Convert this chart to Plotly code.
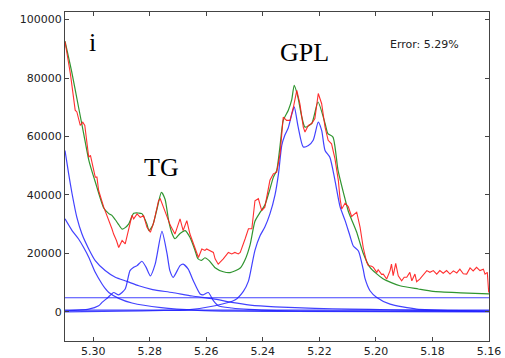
import plotly.graph_objects as go

# ---------------- data (ppm, intensity) ----------------
data_x = [5.3100, 5.3081, 5.3064, 5.3058, 5.3046, 5.3037, 5.3030, 5.3016, 5.3010, 5.2998,
          5.2993, 5.2987, 5.2981, 5.2963, 5.2958, 5.2945, 5.2934, 5.2928, 5.2918, 5.2910,
          5.2898, 5.2887, 5.2875, 5.2863, 5.2857, 5.2845, 5.2834, 5.2822, 5.2810, 5.2798,
          5.2786, 5.2769, 5.2763, 5.2751, 5.2739, 5.2727, 5.2711, 5.2699, 5.2693, 5.2682,
          5.2669, 5.2658, 5.2640, 5.2628, 5.2616, 5.2605, 5.2599, 5.2587, 5.2575, 5.2569,
          5.2558, 5.2540, 5.2522, 5.2510, 5.2499, 5.2487, 5.2480, 5.2463, 5.2451, 5.2439,
          5.2428, 5.2416, 5.2404, 5.2393, 5.2375, 5.2363, 5.2351, 5.2339, 5.2328, 5.2316,
          5.2304, 5.2292, 5.2280, 5.2269, 5.2257, 5.2251, 5.2239, 5.2227, 5.2216, 5.2204,
          5.2192, 5.2180, 5.2169, 5.2157, 5.2145, 5.2133, 5.2127, 5.2121, 5.2109, 5.2098,
          5.2086, 5.2068, 5.2056, 5.2045, 5.2033, 5.2027, 5.2015, 5.2009, 5.1997, 5.1992,
          5.1980, 5.1974, 5.1962, 5.1950, 5.1945, 5.1939, 5.1930, 5.1921, 5.1909, 5.1900,
          5.1891, 5.1880, 5.1873, 5.1862, 5.1856, 5.1845, 5.1832, 5.1820, 5.1809, 5.1797,
          5.1785, 5.1774, 5.1762, 5.1750, 5.1738, 5.1726, 5.1714, 5.1703, 5.1691, 5.1679,
          5.1667, 5.1656, 5.1644, 5.1632, 5.1620, 5.1614, 5.1606, 5.1601]
data_y = [92500, 81500, 69000, 68400, 63800, 64900, 63800, 52900, 53500, 48400,
          46100, 46100, 41500, 35800, 34600, 31200, 28400, 26600, 24400, 22000,
          24400, 23200, 27800, 33000, 31800, 33500, 32300, 32900, 28900, 27200,
          30600, 38000, 38700, 35800, 32300, 29500, 26600, 30600, 31800, 27800,
          31200, 26600, 22000, 18600, 21500, 21000, 21500, 20900, 20300, 18100,
          16300, 18100, 20300, 19800, 20300, 19800, 20300, 24900, 28400, 28400,
          38000, 38700, 34600, 35800, 45000, 47200, 47800, 54100, 66600, 65500,
          65500, 70000, 75800, 71200, 63200, 61500, 63800, 64400, 66100, 74700,
          71200, 63200, 58700, 57500, 52400, 45000, 38700, 35200, 37200, 36000,
          32600, 34100, 28900, 22000, 17000, 15800, 15600, 15200, 13500, 14400,
          12800, 12900, 11200, 14100, 16300, 12400, 16600, 12300, 10600, 11800,
          11800, 13500, 10600, 12900, 10300, 11200, 12900, 14100, 13500, 14100,
          12900, 14100, 13200, 14100, 12900, 14000, 13300, 14600, 13000, 12900,
          15000, 14000, 15200, 14100, 14600, 12900, 13500, 6600]

fit_x = [5.3100, 5.3076, 5.3052, 5.3034, 5.3016, 5.2998, 5.2993, 5.2963, 5.2945, 5.2934,
         5.2922, 5.2910, 5.2898, 5.2887, 5.2875, 5.2857, 5.2840, 5.2828, 5.2810, 5.2803,
         5.2790, 5.2775, 5.2759, 5.2746, 5.2733, 5.2721, 5.2711, 5.2693, 5.2675, 5.2658,
         5.2640, 5.2630, 5.2617, 5.2605, 5.2590, 5.2569, 5.2540, 5.2516, 5.2480, 5.2463,
         5.2445, 5.2428, 5.2410, 5.2393, 5.2375, 5.2363, 5.2351, 5.2339, 5.2328, 5.2310,
         5.2298, 5.2289, 5.2276, 5.2263, 5.2251, 5.2227, 5.2205, 5.2180, 5.2170, 5.2152,
         5.2134, 5.2109, 5.2098, 5.2086, 5.2068, 5.2046, 5.2021, 5.1975, 5.1915, 5.1850,
         5.1798, 5.1700, 5.1600]
fit_y = [92600, 82000, 70000, 61000, 52000, 46000, 44500, 35500, 33600, 33000,
         31500, 29800, 28300, 28800, 30000, 33700, 33800, 33600, 30000, 27800,
         29500, 35000, 40900, 38500, 31000, 26700, 25000, 26800, 27800, 25500,
         21000, 18200, 17600, 18500, 17500, 15100, 13700, 13400, 15000, 17800,
         23000, 31000, 34000, 36500, 42000, 46000, 48400, 57000, 65500, 69000,
         72500, 77500, 73500, 67000, 63200, 64500, 71800, 64500, 61000, 59800,
         48400, 38500, 34500, 31500, 27200, 20300, 15200, 11300, 8900, 7800,
         7000, 6500, 6100]

# fitted components
base_x = [5.31, 5.16]
base_hi_y = [4800, 4800]
base_lo_y = [600, 600]

decay1_x = [5.3100, 5.3087, 5.3075, 5.3058, 5.3040, 5.3016, 5.2993, 5.2958, 5.2922, 5.2881,
            5.2839, 5.2790, 5.2721, 5.2650, 5.2575, 5.2510, 5.2445, 5.2357, 5.2216, 5.2092,
            5.1950, 5.1800, 5.1600]
decay1_y = [55200, 47200, 40400, 32300, 26600, 21500, 17500, 14100, 11800, 10400,
            8900, 7600, 6600, 5400, 4400, 3200, 2300, 1700, 1200, 900,
            700, 500, 350]

decay2_x = [5.3100, 5.3075, 5.3052, 5.3034, 5.3016, 5.2993, 5.2969, 5.2958, 5.2945, 5.2910,
            5.2863, 5.2760, 5.2630, 5.2500, 5.2300, 5.1600]
decay2_y = [31800, 27800, 24900, 22000, 18700, 13500, 9500, 8000, 6600, 4600,
            3000, 1400, 500, 200, 100, 0]

tg_x = [5.3100, 5.3016, 5.2981, 5.2969, 5.2948, 5.2928, 5.2910, 5.2887, 5.2870, 5.2857,
        5.2845, 5.2828, 5.2813, 5.2798, 5.2781, 5.2757, 5.2739, 5.2729, 5.2717, 5.2693,
        5.2682, 5.2664, 5.2646, 5.2622, 5.2611, 5.2593, 5.2575, 5.2558, 5.2510, 5.2450,
        5.2350, 5.2200, 5.1600]
tg_y = [300, 900, 2060, 3200, 4900, 6600, 5800, 7800, 14100, 15200,
        15800, 17300, 15200, 12300, 16300, 27500, 19900, 14100, 11800, 15800,
        16300, 14600, 10600, 6100, 5800, 6600, 3800, 2060, 1300, 800,
        400, 200, 100]

gpl_x = [5.3100, 5.2900, 5.2750, 5.2675, 5.2569, 5.2499, 5.2469, 5.2451, 5.2445, 5.2428,
         5.2410, 5.2393, 5.2375, 5.2357, 5.2345, 5.2333, 5.2322, 5.2310, 5.2298, 5.2289,
         5.2275, 5.2257, 5.2239, 5.2222, 5.2204, 5.2192, 5.2180, 5.2163, 5.2145, 5.2127,
         5.2109, 5.2092, 5.2080, 5.2062, 5.2045, 5.2039, 5.2021, 5.1997, 5.1950, 5.1856,
         5.1700, 5.1600]
gpl_y = [0, 200, 500, 600, 2060, 4000, 7000, 10500, 13000, 21000,
         26000, 29000, 33500, 40000, 47000, 57000, 60500, 63000, 67500, 70100,
         63200, 56400, 56900, 58700, 64900, 62100, 55200, 52900, 45000, 36000,
         31200, 26000, 22500, 20800, 14500, 11500, 7200, 4900, 2600, 900,
         300, 100]

x_ticks = [5.30, 5.28, 5.26, 5.24, 5.22, 5.20, 5.18, 5.16]
y_ticks = [0, 20000, 40000, 60000, 80000, 100000]

# ---------------- figure ----------------
fig = go.Figure()
BLUE = "#2222ff"
blue_line = dict(color=BLUE, width=1.2, shape="spline", smoothing=0.6)

for xs, ys in [(base_x, base_hi_y), (base_x, base_lo_y), (decay1_x, decay1_y),
               (decay2_x, decay2_y), (tg_x, tg_y), (gpl_x, gpl_y)]:
    fig.add_trace(go.Scatter(x=xs, y=ys, mode="lines", line=blue_line,
                             opacity=0.85, hoverinfo="skip", showlegend=False))

fig.add_trace(go.Scatter(x=fit_x, y=fit_y, mode="lines",
                         line=dict(color="#1a8a1a", width=1.2, shape="spline", smoothing=0.6),
                         opacity=0.9, showlegend=False))
fig.add_trace(go.Scatter(x=data_x, y=data_y, mode="lines",
                         line=dict(color="#ff1a1a", width=1.1),
                         opacity=0.9, showlegend=False))

serif = dict(family="Liberation Serif, Times New Roman, serif", size=26, color="black")
fig.add_annotation(x=5.3004, y=92300, text="i", showarrow=False, font=serif)
fig.add_annotation(x=5.2760, y=49400, text="TG", showarrow=False, font=serif)
fig.add_annotation(x=5.2251, y=88800, text="GPL", showarrow=False, font=serif)
fig.add_annotation(x=5.1827, y=91600, text="Error: 5.29%", showarrow=False,
                   font=dict(family="DejaVu Sans", size=11, color="#222"))

axis_common = dict(showgrid=False, zeroline=False, showline=True, linecolor="#444",
                   linewidth=1.2, mirror="ticks", ticks="inside", ticklen=4,
                   tickcolor="#444", tickwidth=1,
                   tickfont=dict(family="DejaVu Sans", size=11, color="#222"))

fig.update_xaxes(range=[5.31, 5.16], tickvals=x_ticks,
                 ticktext=[f"{v:.2f}" for v in x_ticks], **axis_common)
fig.update_yaxes(range=[-10000, 102600], tickvals=y_ticks,
                 ticktext=[str(v) for v in y_ticks], **axis_common)

fig.update_layout(width=505, height=358, margin=dict(l=65, r=16, t=12, b=17, autoexpand=False),
                  plot_bgcolor="white", paper_bgcolor="white")

fig.write_html("out.html")
